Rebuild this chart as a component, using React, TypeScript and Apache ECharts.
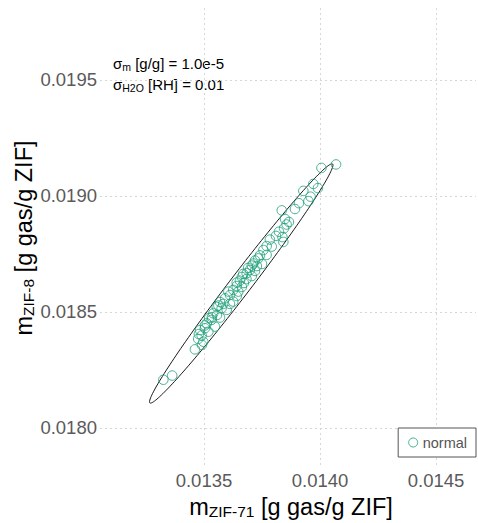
import React, { useEffect, useRef } from "react";
import * as echarts from "echarts";

// m_ZIF-71 values (x) and m_ZIF-8 values (y)
const mZIF71 = [
  0.014069, 0.014006, 0.013971, 0.013928, 0.013959, 0.01395, 0.013909, 0.013892, 0.013835, 0.013849,
  0.013856, 0.013845, 0.013823, 0.013838, 0.013842, 0.013784, 0.013792, 0.01377, 0.013756, 0.01377,
  0.013741, 0.013734, 0.01372, 0.01375, 0.013713, 0.013706, 0.013698, 0.01372, 0.013684, 0.013669,
  0.013663, 0.013655, 0.013683, 0.013706, 0.013641, 0.013641, 0.013663, 0.013648, 0.013605, 0.013626,
  0.013612, 0.013641, 0.013591, 0.013626, 0.013569, 0.013583, 0.013562, 0.013555, 0.013576, 0.013598,
  0.01354, 0.013556, 0.013569, 0.013533, 0.013522, 0.013512, 0.013504, 0.013547, 0.013504, 0.013483,
  0.013519, 0.01349, 0.013475, 0.013497, 0.013461, 0.013325, 0.013363, 0.013672, 0.01369, 0.013728,
  0.013612, 0.013534, 0.013478, 0.013491, 0.01381, 0.013866, 0.013991,
];
const mZIF8 = [
  0.019136, 0.019121, 0.019052, 0.019022, 0.018997, 0.018978, 0.018969, 0.018944, 0.018938, 0.018901,
  0.018877, 0.018861, 0.018846, 0.018823, 0.018802, 0.018812, 0.018782, 0.018784, 0.018767, 0.018746,
  0.018744, 0.018731, 0.018722, 0.018707, 0.018709, 0.0187, 0.018681, 0.018677, 0.018667, 0.018664,
  0.018651, 0.018635, 0.018642, 0.018655, 0.018627, 0.018612, 0.018608, 0.018588, 0.018588, 0.018595,
  0.018573, 0.018569, 0.018559, 0.018545, 0.018543, 0.018535, 0.018528, 0.018522, 0.018516, 0.018509,
  0.018494, 0.018487, 0.018476, 0.018466, 0.018474, 0.018451, 0.018442, 0.018437, 0.01843, 0.018422,
  0.018415, 0.018399, 0.018384, 0.018372, 0.018339, 0.018208, 0.018226, 0.018625, 0.01869, 0.018698,
  0.018535, 0.018478, 0.018405, 0.018358, 0.018828, 0.018888, 0.019034,
];

const xTicks = [0.0135, 0.014, 0.0145];
const yTicks = [0.018, 0.0185, 0.019, 0.0195];
const xRange = [0.013052, 0.014672];
const yRange = [0.0178405, 0.0198103];

// ellipse: ends of the major axis and half of the minor axis (data units)
const ellipseEndA = [0.013267, 0.018108];
const ellipseEndB = [0.014054, 0.019138];
const ellipseHalfMinor = 0.0000455;

const seriesName = "normal";
const annotationLines = [
  { sym: "σ", sub: "m", rest: " [g/g] = 1.0e-5" },
  { sym: "σ", sub: "H2O", rest: " [RH] = 0.01" },
];

const FONT = "'Liberation Sans', Arial, Helvetica, sans-serif";
const GREEN = "#1b9e77";
const TITLE_COLOR = "#666666";
const TICK_COLOR = "#5a5a5a";
const ANNOT_COLOR = "#555555";

export default function App() {
  const ref = useRef<HTMLDivElement>(null);
  useEffect(() => {
    if (!ref.current) return;
    const chart = echarts.init(ref.current, undefined, { renderer: "svg" });
    const points = mZIF71.map((x, i) => [x, mZIF8[i]]);
    const cx = (ellipseEndA[0] + ellipseEndB[0]) / 2;
    const cy = (ellipseEndA[1] + ellipseEndB[1]) / 2;

    const annText = annotationLines
      .map((l) => `{a|${l.sym}}{s|${l.sub}}{a|${l.rest}}`)
      .join("\n");

    const titleRich = {
      m: { fontSize: 23.5, color: TITLE_COLOR, fontFamily: FONT, lineHeight: 28 },
      s: { fontSize: 15.5, color: TITLE_COLOR, fontFamily: FONT, lineHeight: 18, padding: [9, 0, 0, 0] },
    };

    chart.setOption({
      animation: false,
      textStyle: { fontFamily: FONT },
      grid: { left: 100, right: 2, top: 8, bottom: 58, containLabel: false },
      xAxis: {
        type: "value",
        min: xRange[0],
        max: xRange[1],
        axisLine: { show: false },
        axisTick: { show: false, customValues: xTicks },
        axisLabel: {
          customValues: xTicks,
          formatter: (v: number) => v.toFixed(4),
          fontSize: 18.5,
          color: TICK_COLOR,
          margin: 6,
          fontFamily: FONT,
        },
        splitLine: { show: true, lineStyle: { color: "#d6d6d6", type: [2, 3], width: 1 } },
      },
      yAxis: {
        type: "value",
        min: yRange[0],
        max: yRange[1],
        axisLine: { show: false },
        axisTick: { show: false, customValues: yTicks },
        axisLabel: {
          customValues: yTicks,
          formatter: (v: number) => v.toFixed(4),
          fontSize: 18.5,
          color: TICK_COLOR,
          margin: 3,
          fontFamily: FONT,
        },
        splitLine: { show: true, lineStyle: { color: "#d6d6d6", type: [2, 3], width: 1 } },
      },
      legend: {
        data: [
          {
            name: seriesName,
            icon: "circle",
            itemStyle: { color: "transparent", borderColor: GREEN, borderWidth: 1 },
          },
        ],
        right: 2,
        bottom: 66,
        orient: "vertical",
        itemWidth: 9,
        itemHeight: 9,
        padding: [7, 9, 7, 10],
        borderColor: "#555",
        borderWidth: 1,
        backgroundColor: "#fff",
        textStyle: { fontSize: 14.5, color: "#555", fontFamily: FONT },
      },
      graphic: [
        {
          type: "text",
          left: 113,
          top: 54,
          style: {
            text: annText,
            rich: {
              a: { fontSize: 15, color: ANNOT_COLOR, fontFamily: FONT, lineHeight: 21 },
              s: { fontSize: 10.5, color: ANNOT_COLOR, fontFamily: FONT, lineHeight: 12, padding: [7, 0, 0, 0] },
            },
          },
        },
        {
          type: "text",
          x: 291,
          y: 507,
          style: {
            text: "{m|m}{s|ZIF-71}{m| [g gas/g ZIF]}",
            align: "center",
            verticalAlign: "middle",
            rich: titleRich,
          },
        },
        {
          type: "text",
          x: 24,
          y: 238,
          rotation: Math.PI / 2,
          style: {
            text: "{m|m}{s|ZIF-8}{m| [g gas/g ZIF]}",
            align: "center",
            verticalAlign: "middle",
            rich: titleRich,
          },
        },
      ],
      series: [
        {
          type: "custom",
          name: "ellipse",
          silent: true,
          data: [[cx, cy]],
          encode: { x: 0, y: 1 },
          clip: false,
          renderItem: (_params: any, api: any) => {
            const ux = (ellipseEndB[0] - ellipseEndA[0]) / 2;
            const uy = (ellipseEndB[1] - ellipseEndA[1]) / 2;
            const len = Math.sqrt(ux * ux + uy * uy);
            const vx = (-uy / len) * ellipseHalfMinor;
            const vy = (ux / len) * ellipseHalfMinor;
            const pts: number[][] = [];
            const n = 180;
            for (let i = 0; i < n; i++) {
              const t = (i / n) * Math.PI * 2;
              const c = Math.cos(t);
              const s = Math.sin(t);
              pts.push(api.coord([cx + ux * c + vx * s, cy + uy * c + vy * s]));
            }
            return {
              type: "polygon",
              shape: { points: pts },
              style: { fill: "none", stroke: "#000", lineWidth: 0.9 },
            };
          },
          z: 1,
        },
        {
          type: "scatter",
          name: seriesName,
          data: points,
          symbol: "circle",
          symbolSize: 9.5,
          itemStyle: { color: "transparent", borderColor: GREEN, borderWidth: 1 },
          z: 2,
        },
      ],
    });
    return () => chart.dispose();
  }, []);
  return <div ref={ref} style={{ width: 478, height: 523, position: "absolute", left: 0, top: 0 }} />;
}
